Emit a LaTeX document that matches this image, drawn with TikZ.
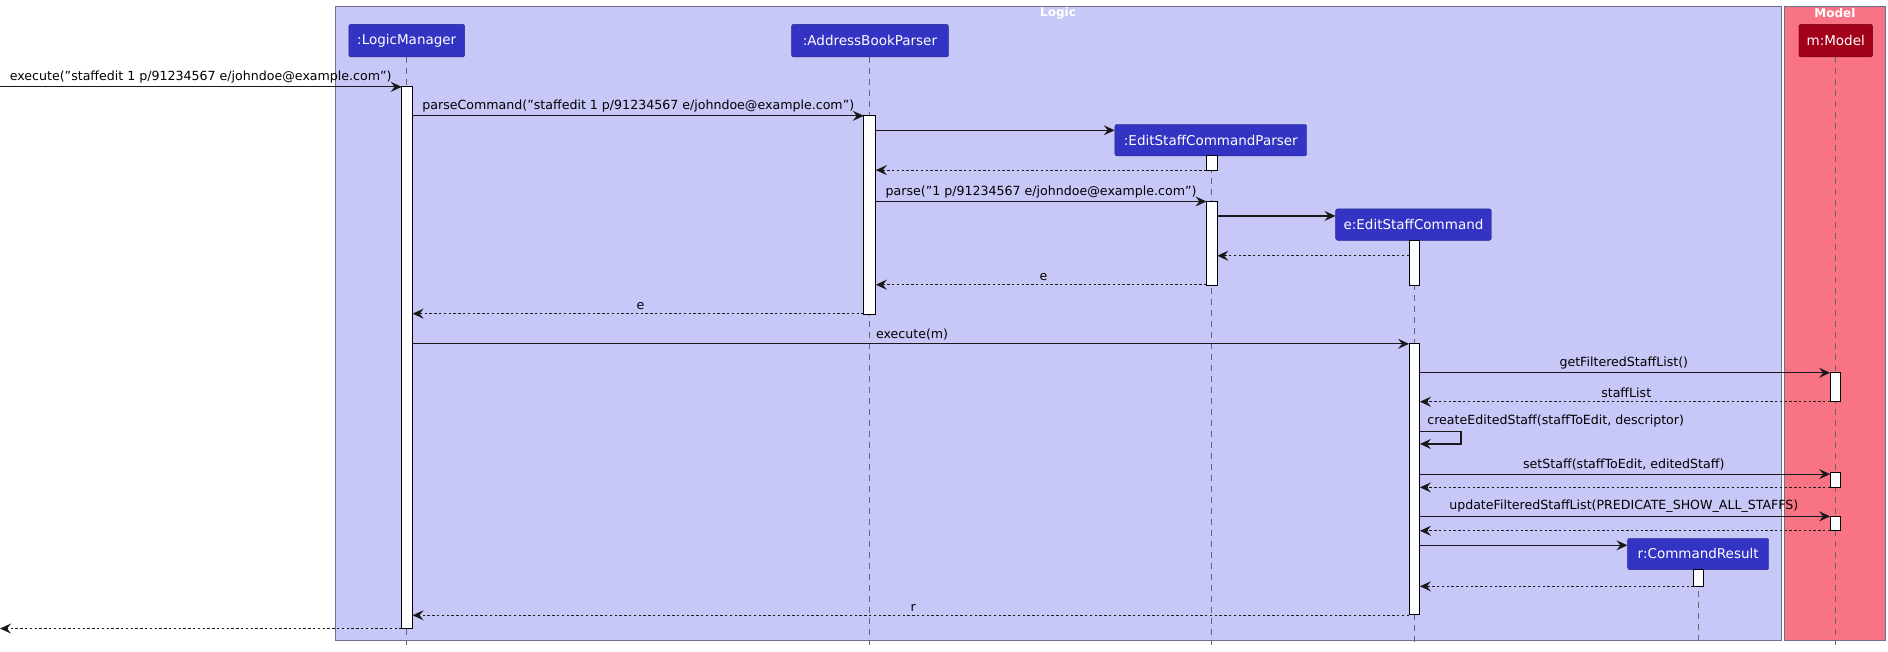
\documentclass[tikz,border=0pt]{standalone}
\usepackage{fontspec}
\setmainfont{DejaVu Sans}
\usetikzlibrary{arrows.meta}
\definecolor{logicbg}{HTML}{C8C8F8}
\definecolor{modelbg}{HTML}{F87384}
\definecolor{hdr}{HTML}{3434C4}
\definecolor{mhdr}{HTML}{A3001A}
\definecolor{frm}{HTML}{6E6E8E}
\tikzset{
 lbl/.style={font=\fontsize{12.6}{14}\selectfont, inner sep=0pt},
 hbox/.style={fill=hdr, draw=hdr!70!black, rounded corners=2pt, text=white, font=\fontsize{13.5}{15}\selectfont, inner sep=0pt, anchor=north west},
 act/.style={fill=white, draw=black, line width=1pt},
 life/.style={draw=black!60, dash pattern=on 6pt off 5pt, line width=0.7pt},
 msg/.style={draw=black!90, line width=1.1pt, -{Stealth[length=11pt,width=10pt,inset=4pt]}},
 ret/.style={msg, dash pattern=on 2.4pt off 2.4pt},
}
\begin{document}
\begin{tikzpicture}[x=1.2064pt,y=-1.2064pt]
\useasboundingbox (0,0) rectangle (1565,540.4);
% frames
\draw[fill=logicbg, draw=frm, line width=1pt] (278,5) rectangle (1477,531);
\draw[fill=modelbg, draw=frm, line width=1pt] (1479,5) rectangle (1563,531);
\node[lbl, text=white, font=\bfseries\fontsize{12}{14}\selectfont] (tlogic) at (877,11) {Logic};
\node[lbl, text=white, font=\bfseries\fontsize{12}{14}\selectfont] (tmodel) at (1521,11) {Model};
% lifelines
\draw[life] (337,47) -- (337,535);
\draw[life] (721,47) -- (721,535);
\draw[life] (1004,129) -- (1004,535);
\draw[life] (1172,199) -- (1172,535);
\draw[life] (1521,47) -- (1521,535);
\draw[life] (1408,472) -- (1408,535);
% headers
\node[hbox, minimum width=115.8pt, minimum height=32.6pt] (lm) at (289,20) {:LogicManager};
\node[hbox, minimum width=156.8pt, minimum height=32.6pt] (abp) at (656,20) {:AddressBookParser};
\node[hbox, minimum width=191.8pt, minimum height=31.4pt] (escp) at (924,103) {:EditStaffCommandParser};
\node[hbox, minimum width=155.6pt, minimum height=31.4pt] (esc) at (1107,173) {e:EditStaffCommand};
\node[hbox, fill=mhdr, draw=mhdr!70!black, minimum width=73.6pt, minimum height=32.6pt] (mm) at (1491,20) {m:Model};
\node[hbox, minimum width=141.1pt, minimum height=31.4pt] (cr) at (1349,446) {r:CommandResult};
% activations
\draw[act] (333,72) rectangle (342,521);
\draw[act] (716,96) rectangle (726,261);
\draw[act] (1000,129) rectangle (1009,141);
\draw[act] (1000,167) rectangle (1009,237);
\draw[act] (1168,199) rectangle (1177,237);
\draw[act] (1168,285) rectangle (1177,509);
\draw[act] (1517,309) rectangle (1526,333);
\draw[act] (1517,392) rectangle (1526,404);
\draw[act] (1517,428) rectangle (1526,440);
\draw[act] (1404,472) rectangle (1412,486);
% coordinates
\coordinate (in0) at (0,72); \coordinate (lmA) at (333,72);
\coordinate (out0) at (0,521); \coordinate (lmZ) at (333,521);
% messages
\draw[msg] (in0) -- (lmA);
\node[lbl, anchor=south west] (l1) at (8,69) {execute("staffedit 1 p/91234567 e/johndoe@example.com")};
\draw[msg] (342,96) -- (716,96);
\node[lbl, anchor=south west] (l2) at (350,93) {parseCommand("staffedit 1 p/91234567 e/johndoe@example.com")};
\draw[msg] (726,108) -- (escp.west |- 0,108);
\draw[ret] (1000,141) -- (726,141);
\draw[msg] (726,167) -- (1000,167);
\node[lbl, anchor=south west] (l3) at (734,164) {parse("1 p/91234567 e/johndoe@example.com")};
\draw[msg] (1009,179) -- (esc.west |- 0,179);
\draw[ret] (1168,212) -- (1009,212);
\draw[ret] (1000,236) -- (726,236);
\node[lbl, anchor=south] (l4) at (865,233) {e};
\draw[ret] (716,260) -- (342,260);
\node[lbl, anchor=south] (l5) at (531,257) {e};
\draw[msg] (342,285) -- (1168,285);
\node[lbl, anchor=south west] (l6) at (726,282) {execute(m)};
\draw[msg] (1177,309) -- (1517,309);
\node[lbl, anchor=south] (l7) at (1346,306) {getFilteredStaffList()};
\draw[ret] (1517,333) -- (1177,333);
\node[lbl, anchor=south] (l8) at (1348,330) {staffList};
\node[lbl, anchor=south west] (l9) at (1183,354) {createEditedStaff(staffToEdit, descriptor)};
\draw[msg] (1177,358) -- (1211,358) -- (1211,368) -- (1177,368);
\draw[msg] (1177,393) -- (1517,393);
\node[lbl, anchor=south] (l10) at (1346,390) {setStaff(staffToEdit, editedStaff)};
\draw[ret] (1517,404) -- (1177,404);
\draw[msg] (1177,428) -- (1517,428);
\node[lbl, anchor=south] (l11) at (1346,425) {updateFilteredStaffList(PREDICATE\_SHOW\_ALL\_STAFFS)};
\draw[ret] (1517,440) -- (1177,440);
\draw[msg] (1177,452) -- (cr.west |- 0,452);
\draw[ret] (1404,486) -- (1177,486);
\draw[ret] (1168,510) -- (342,510);
\node[lbl, anchor=south] (l12) at (757,507) {r};
\draw[ret] (lmZ) -- (out0);
\end{tikzpicture}
\end{document}
